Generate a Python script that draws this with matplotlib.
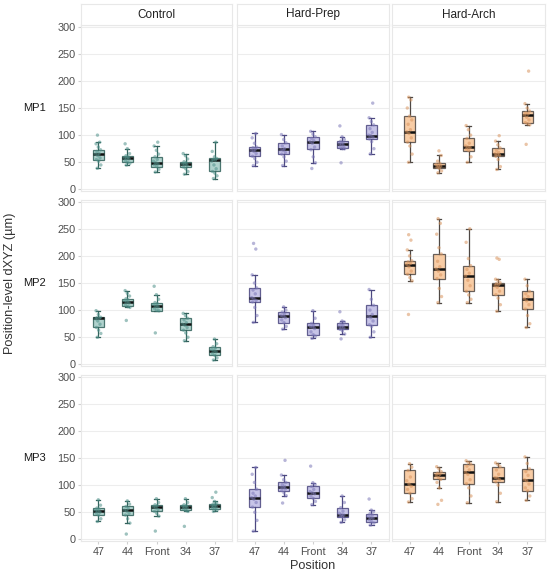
import numpy as np
import matplotlib.pyplot as plt

plt.rcParams['font.family'] = ['Liberation Sans', 'DejaVu Sans']

positions = ["47", "44", "Front", "34", "37"]
conditions = ["Control", "Hard-Prep", "Hard-Arch"]
mps = ["MP1", "MP2", "MP3"]

# box stats per position: (lower whisker, q1, median, q3, upper whisker)
mp1_control_box = [(39, 54.5, 65, 73, 87), (45, 50, 57, 62, 75), (32, 42, 49, 60, 80),
                   (28, 41, 46, 51, 66), (20, 33, 54.5, 57.5, 87)]
mp1_prep_box = [(44, 61, 72, 78, 103), (44, 65.5, 73.5, 86, 101), (49, 73.5, 88, 97, 107),
                (75, 76, 83, 89, 97), (65.5, 93, 99, 119, 132)]
mp1_arch_box = [(50, 87, 106.5, 135, 170), (30.6, 38.5, 43.5, 48, 62.5), (50, 71.6, 78, 94, 117.6),
                (36.7, 61, 66, 76.5, 89), (119, 123, 137, 144.5, 158)]
mp2_control_box = [(50, 68, 85, 86.7, 99), (105, 107.5, 115, 121, 136), (99, 99, 107.5, 113.7, 128.5),
                   (43.6, 63, 74, 85, 94), (8, 16.6, 25, 32.6, 46.7)]
mp2_prep_box = [(77.4, 115, 121.7, 141, 165), (65, 77, 89.7, 96.5, 106), (48, 54.7, 69.5, 75.6, 99),
                (56, 64.5, 69.5, 75.6, 80), (50, 73, 88.5, 109, 138)]
mp2_arch_box = [(154, 166, 184, 191, 211), (114, 158, 176, 203.5, 268.6), (114, 134.6, 163, 182, 250),
                (98, 128.5, 145.7, 150.6, 157), (68, 102, 121, 134.6, 157)]
mp3_control_box = [(33, 44.8, 52, 57.7, 73), (30, 44.8, 53.4, 60.7, 71), (43, 51.5, 59.5, 63.8, 75),
                   (51.5, 53.4, 59.5, 63.8, 75), (51.5, 56, 60.7, 65, 70)]
mp3_prep_box = [(15.3, 59.5, 76.7, 92.6, 132.5), (80.5, 90, 96, 105, 118.6), (64, 75.6, 86, 97.7, 104.5),
                (31.3, 41.8, 45.5, 58.4, 80), (26.4, 32.6, 40, 47.3, 54)]
mp3_arch_box = [(69, 85, 102, 127, 139.5), (95, 110.6, 118.6, 124.8, 134), (67.6, 102.6, 123.5, 139, 145),
                (69.5, 106, 114, 134, 141), (72, 89.7, 108.8, 130, 152)]

# individual values per position
mp1_control = [[39, 45, 52, 55, 58, 62, 65, 66, 70, 73, 78, 84, 87, 100],
               [45, 48, 50, 53, 56, 57, 58, 60, 62, 66, 75, 84],
               [32, 37, 42, 45, 47, 49, 52, 55, 60, 65, 72, 80, 87],
               [28, 33, 38, 41, 44, 46, 47, 49, 51, 56, 62, 66],
               [20, 25, 30, 33, 38, 45, 52, 54, 55, 57, 60, 70, 87]]
mp1_prep = [[44, 50, 57, 61, 66, 70, 72, 74, 77, 78, 85, 95, 103],
            [44, 52, 60, 65, 68, 72, 73, 75, 80, 86, 92, 101],
            [38.5, 49, 60, 73, 78, 85, 88, 90, 94, 97, 102, 107],
            [49, 75, 76, 78, 80, 83, 84, 86, 89, 92, 97, 117],
            [65.5, 75, 88, 93, 96, 99, 100, 105, 112, 119, 125, 132, 159]]
mp1_arch = [[50, 65, 80, 87, 95, 103, 106, 110, 120, 128, 135, 150, 165, 170],
            [30.6, 34, 38.5, 41, 43, 44, 46, 48, 52, 62.5, 71],
            [50, 60, 71.6, 74, 77, 78, 80, 85, 94, 100, 110, 117.6],
            [36.7, 42, 55, 61, 63, 65, 66, 68, 72, 76.5, 82, 89, 99],
            [83, 119, 121, 123, 128, 133, 137, 139, 141, 144.5, 150, 158, 218]]
mp2_control = [[50, 57, 63, 68, 74, 80, 84, 85, 86, 87, 92, 99],
               [81, 105, 107, 110, 113, 115, 117, 119, 121, 126, 131, 136],
               [58, 99, 100, 103, 106, 107.5, 110, 112, 114, 120, 128.5, 144],
               [43.6, 50, 58, 63, 68, 72, 74, 77, 82, 85, 90, 94],
               [8, 12, 16.6, 20, 23, 25, 27, 30, 32.6, 38, 46.7]]
mp2_prep = [[77.4, 90, 105, 115, 118, 121, 123, 130, 137, 141, 150, 165, 212.6, 223],
            [65, 70, 77, 82, 86, 89, 90, 93, 96.5, 100, 106],
            [48, 52, 54.7, 60, 66, 69, 70, 72, 75.6, 85, 99],
            [47, 56, 62, 64.5, 67, 69, 70, 72, 75.6, 78, 80, 97],
            [50, 60, 70, 73, 80, 86, 88, 92, 100, 109, 120, 138]]
mp2_arch = [[92, 154, 160, 166, 172, 180, 184, 186, 189, 191, 200, 211, 229, 239],
            [114, 125, 140, 158, 165, 172, 176, 180, 190, 203.5, 215, 240, 260, 268.6],
            [114, 120, 128, 134.6, 145, 155, 163, 168, 175, 182, 195, 225, 250],
            [98, 110, 122, 128.5, 135, 142, 145, 147, 149, 150.6, 155, 157, 193.6, 196],
            [68, 75, 90, 102, 110, 117, 121, 125, 130, 134.6, 145, 157]]
mp3_control = [[33, 38, 44.8, 48, 50, 52, 54, 56, 57.7, 63, 73],
               [9.8, 30, 38, 44.8, 48, 52, 54, 57, 60.7, 65, 71],
               [15.3, 43, 48, 51.5, 55, 58, 60, 62, 63.8, 68, 75],
               [24, 51.5, 53.4, 56, 58, 59.5, 61, 62, 63.8, 68, 75],
               [51.5, 54, 56, 58, 60, 61, 62, 64, 65, 67, 70, 77, 87]]
mp3_prep = [[15.3, 35, 50, 59.5, 68, 74, 77, 80, 85, 92.6, 105, 120, 132.5],
            [67, 80.5, 86, 90, 93, 95, 96, 98, 101, 105, 110, 118.6, 145.7],
            [64, 70, 75.6, 80, 84, 86, 88, 92, 97.7, 101, 104.5, 135],
            [31.3, 36, 41.8, 43, 45, 46, 48, 52, 58.4, 68, 80],
            [26.4, 30, 32.6, 36, 39, 40, 42, 45, 47.3, 51, 54, 74.4]]
mp3_arch = [[69, 75, 85, 92, 98, 102, 108, 115, 127, 133, 139.5],
            [64.5, 72, 95, 105, 110.6, 114, 118, 120, 122, 124.8, 130, 134],
            [67.6, 80, 95, 102.6, 110, 120, 123.5, 128, 135, 139, 142, 145],
            [69.5, 85, 100, 106, 110, 113, 114, 120, 128, 134, 138, 141],
            [72, 80, 89.7, 95, 102, 108, 110, 118, 125, 130, 140, 152]]

box_grid = [[mp1_control_box, mp1_prep_box, mp1_arch_box],
            [mp2_control_box, mp2_prep_box, mp2_arch_box],
            [mp3_control_box, mp3_prep_box, mp3_arch_box]]
pts_grid = [[mp1_control, mp1_prep, mp1_arch],
            [mp2_control, mp2_prep, mp2_arch],
            [mp3_control, mp3_prep, mp3_arch]]

fills = ["#a3cbc5", "#bdbae3", "#f7c495"]
edges = ["#33625c", "#4c4880", "#4f4844"]
pcols = ["#4f918a", "#7d79b8", "#d9955f"]

W, H = 550, 575
fig = plt.figure(figsize=(W / 100, H / 100), dpi=100)
col_x = [(81, 232), (237, 389), (392, 545)]
row_y = [(25, 191), (200, 366), (375, 541)]


def frac(x0, x1, y0, y1):
    return [x0 / W, 1 - y1 / H, (x1 - x0) / W, (y1 - y0) / H]


for r in range(3):
    for c in range(3):
        x0, x1 = col_x[c]
        y0, y1 = row_y[r]
        ax = fig.add_axes(frac(x0, x1, y0, y1))
        for s in ax.spines.values():
            s.set_color("#e8e8e8")
            s.set_linewidth(0.8)

        stats = []
        for lo, q1, med, q3, hi in box_grid[r][c]:
            stats.append(dict(whislo=lo, q1=q1, med=med, q3=q3, whishi=hi, fliers=[]))
        ax.bxp(stats, positions=range(1, 6), widths=0.38, capwidths=0.14,
               patch_artist=True, manage_ticks=False, showfliers=False,
               boxprops=dict(facecolor=fills[c], edgecolor=edges[c], lw=0.9, alpha=0.85),
               medianprops=dict(color="#111111", lw=1.8),
               whiskerprops=dict(color=edges[c], lw=0.9),
               capprops=dict(color=edges[c], lw=0.9))

        # jittered raw values (fixed offsets)
        for i, vals in enumerate(pts_grid[r][c]):
            n = len(vals)
            offs = ((np.arange(n) * 0.618 + 0.3) % 1 - 0.5) * 0.2
            ax.scatter(i + 1 + offs, vals, s=6, color=pcols[c], alpha=0.55,
                       edgecolors="none", zorder=4)

        ax.set_xlim(0.4, 5.6)
        ax.set_ylim(-3, 303)
        ax.set_yticks(range(0, 301, 50))
        ax.set_xticks(range(1, 6))
        ax.grid(axis="y", color="#ededed", lw=0.8)
        ax.set_axisbelow(True)

        ax.tick_params(length=2.5, color="#d0d0d0", labelsize=7.8, labelcolor="#4d4d4d", pad=1.5)
        if c == 0:
            ax.set_yticklabels([str(v) for v in range(0, 301, 50)])
        else:
            ax.tick_params(axis="y", length=0, labelleft=False)
        if r == 2:
            ax.set_xticklabels(positions)
        else:
            ax.tick_params(axis="x", length=0, labelbottom=False)

        if r == 0:
            sax = fig.add_axes(frac(x0, x1, 4, 25))
            sax.set_xticks([])
            sax.set_yticks([])
            for s in sax.spines.values():
                s.set_color("#e8e8e8")
                s.set_linewidth(0.8)
            sax.text(0.5, 0.5, conditions[c], ha="center", va="center",
                     fontsize=8.5, color="#222222", transform=sax.transAxes)

    fig.text(35 / W, 1 - (sum(row_y[r]) / 2) / H, mps[r], ha="center", va="center",
             fontsize=8, color="#1a1a1a")

fig.text(10 / W, 1 - 283 / H, "Position-level dXYZ (µm)", rotation=90,
         ha="center", va="center", fontsize=9.2, color="#333333")
fig.text(313 / W, 1 - 566 / H, "Position", ha="center", va="center",
         fontsize=9.2, color="#333333")

fig.savefig("out.png", dpi=100)
